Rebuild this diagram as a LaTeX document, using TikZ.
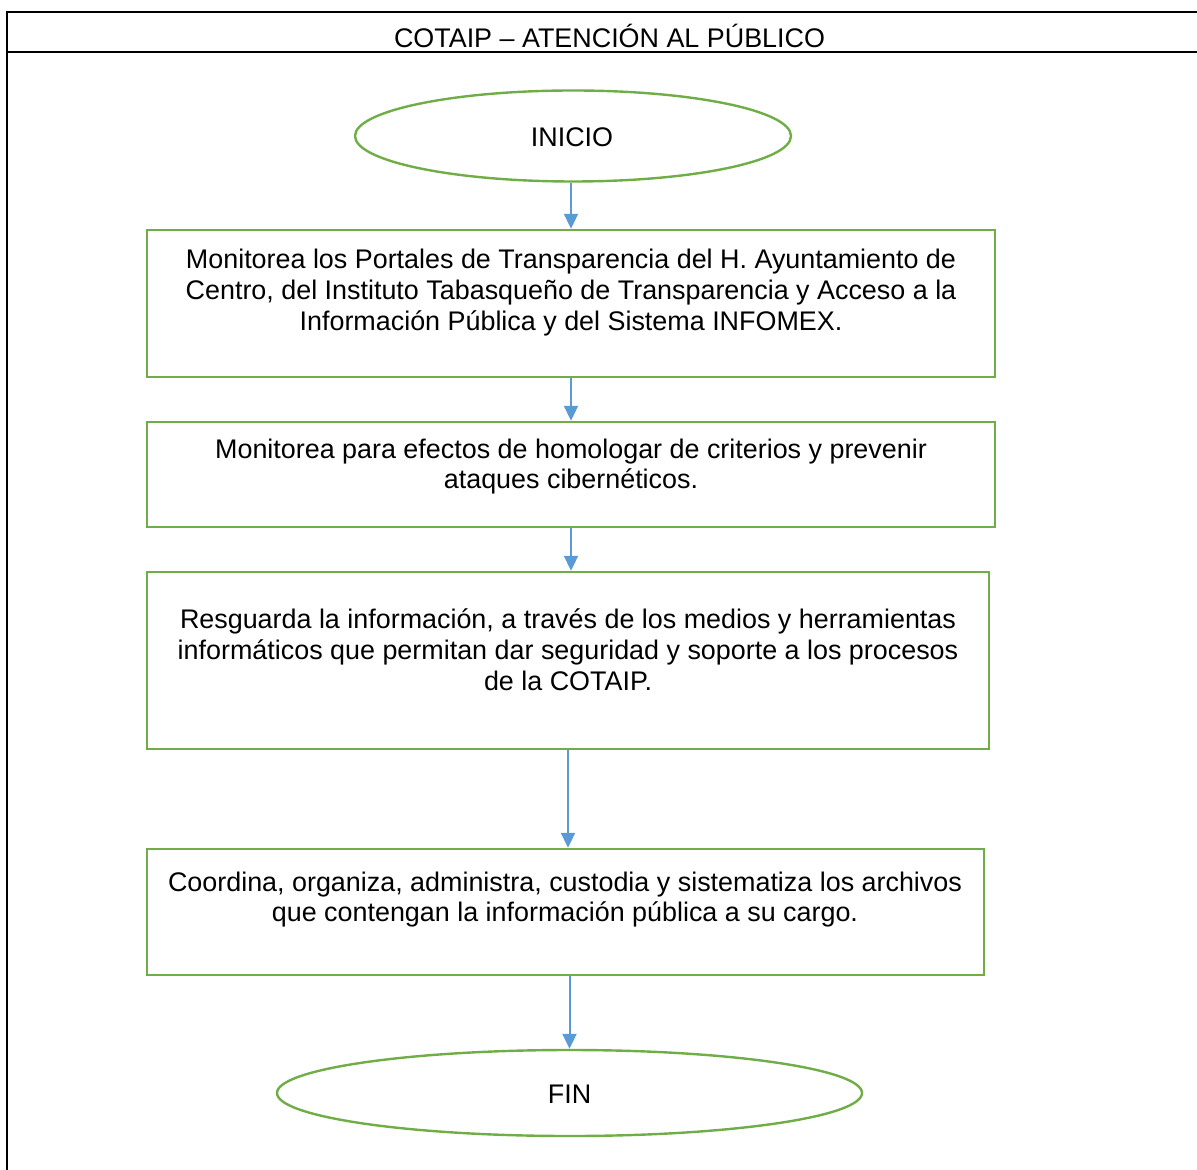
\documentclass[tikz,border=0pt]{standalone}
\usepackage{fontspec}
\setmainfont{Liberation Sans}
\usetikzlibrary{shapes.geometric,arrows.meta}
\definecolor{gborder}{HTML}{70AD47}
\definecolor{barrow}{HTML}{5B9BD5}
\tikzset{
  every node/.style={font=\fontsize{13.45}{15.4}\selectfont},
  stepbox/.style={draw=gborder, line width=1.2pt, rectangle, inner sep=0pt},
  term/.style={draw=gborder, line width=1.2pt, ellipse, inner sep=0pt},
  txt/.style={align=center, inner sep=0pt},
  arr/.style={draw=barrow, line width=1pt, -{Triangle[length=7.5pt,width=7pt]}},
  frame/.style={draw=black, line width=1.4pt}
}
\begin{document}
\begin{tikzpicture}[x=0.5pt,y=-0.5pt]
\useasboundingbox (0,0) rectangle (1197,1170);
\draw[frame] (1197,12) -- (7,12) -- (7,1170);
\draw[frame] (7,52) -- (1197,52);
\node[txt] (title) at (609.5,35.5) {COTAIP – ATENCIÓN AL PÚBLICO};

\node[term, minimum width=218pt, minimum height=45.5pt] (ini) at (573,136) {};
\node[txt] (initxt) at (572,137) {INICIO};

\node[stepbox, minimum width=424pt, minimum height=73.5pt] (b1) at (571,303.5) {};
\node[txt] (t1) at (571,292.5) {Monitorea los Portales de Transparencia del H. Ayuntamiento de\\Centro, del Instituto Tabasqueño de Transparencia y Acceso a la\\Información Pública y del Sistema INFOMEX.};

\node[stepbox, minimum width=424pt, minimum height=52.5pt] (b2) at (571,474.5) {};
\node[txt] (t2) at (571,466.5) {Monitorea para efectos de homologar de criterios y prevenir\\ataques cibernéticos.};

\node[stepbox, minimum width=421pt, minimum height=88.5pt] (b3) at (568,660.5) {};
\node[txt] (t3) at (568,649.5) {Resguarda la información, a través de los medios y herramientas\\informáticos que permitan dar seguridad y soporte a los procesos\\de la COTAIP.};

\node[stepbox, minimum width=418.5pt, minimum height=63pt] (b4) at (565.5,912) {};
\node[txt] (t4) at (565,899.5) {Coordina, organiza, administra, custodia y sistematiza los archivos\\que contengan la información pública a su cargo.};

\node[term, minimum width=292.5pt, minimum height=43pt] (fin) at (569.5,1093) {};
\node[txt] (fintxt) at (569.5,1094) {FIN};

\draw[arr] (ini.south -| b1.north) -- (b1.north);
\draw[arr] (b1.south) -- (b2.north);
\draw[arr] (b2.south) -- (b2.south |- b3.north);
\draw[arr] (b3.south) -- (b3.south |- b4.north);
\draw[arr] (b4.south -| fin.north) -- (fin.north);
\end{tikzpicture}
\end{document}
